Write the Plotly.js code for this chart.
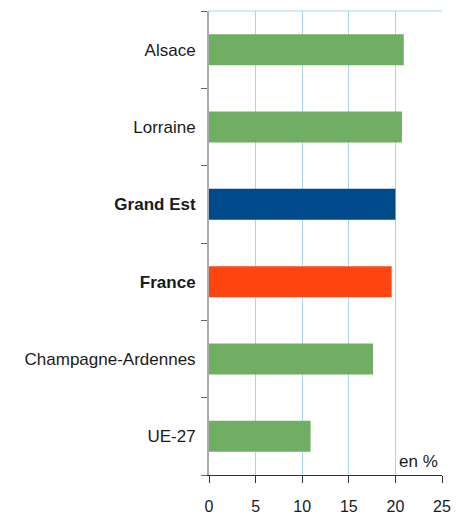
<!DOCTYPE html>
<html>
<head>
<meta charset="utf-8">
<script src="https://cdn.plot.ly/plotly-3.0.1.min.js"></script>
<style>html,body{margin:0;padding:0;background:#fff;}#chart{width:467px;height:523px;}</style>
</head>
<body>
<div id="chart"></div>
<script>
const categories = ["Alsace", "Lorraine", "Grand Est", "France", "Champagne-Ardennes", "UE-27"];
const tickLabels = ["Alsace", "Lorraine", "<b>Grand Est</b>", "<b>France</b>", "Champagne-Ardennes", "UE-27"];
const values = [20.9, 20.7, 20.0, 19.6, 17.6, 10.9];
const barColors = ["#70AF63", "#70AF63", "#00498A", "#FF4612", "#70AF63", "#70AF63"];
const xTicks = [0, 5, 10, 15, 20, 25];

const font = "'Liberation Sans', Arial, sans-serif";

const trace = {
  type: "bar",
  orientation: "h",
  y: categories,
  x: values,
  marker: {color: barColors, line: {width: 0}},
  width: 0.4,
  hoverinfo: "none"
};

const layout = {
  width: 467,
  height: 523,
  margin: {l: 209, r: 25, t: 11, b: 48},
  paper_bgcolor: "#fff",
  plot_bgcolor: "#fff",
  showlegend: false,
  font: {family: font, color: "#1a1a1a"},
  xaxis: {
    range: [0, 25],
    tickvals: xTicks,
    ticktext: xTicks.map(String),
    showgrid: true,
    gridcolor: "#A9D5F0",
    gridwidth: 1,
    zeroline: false,
    showline: true,
    linecolor: "#333",
    linewidth: 1,
    ticks: "outside",
    ticklen: 7,
    tickcolor: "#333",
    tickfont: {size: 16, family: font, color: "#1a1a1a"},
    ticklabelstandoff: 10,
    fixedrange: true
  },
  yaxis: {
    type: "category",
    categoryorder: "array",
    categoryarray: categories,
    tickvals: categories,
    ticktext: tickLabels,
    autorange: "reversed",
    showgrid: false,
    zeroline: false,
    showline: true,
    linecolor: "#AAAAAA",
    linewidth: 2,
    ticks: "outside",
    tickson: "boundaries",
    ticklen: 6,
    tickcolor: "#666",
    tickfont: {size: 17, family: font, color: "#1a1a1a"},
    ticklabelstandoff: 8,
    fixedrange: true
  },
  shapes: [{
    type: "line", xref: "paper", yref: "paper",
    x0: 0, x1: 1, y0: 1, y1: 1,
    line: {color: "#A9D5F0", width: 1}
  }],
  annotations: [{
    text: "en %",
    xref: "x", yref: "paper",
    x: 24.8, y: 0.005,
    xanchor: "right", yanchor: "bottom",
    showarrow: false,
    font: {size: 17, family: font, color: "#1a1a1a"}
  }]
};

Plotly.newPlot("chart", [trace], layout, {displayModeBar: false, staticPlot: true});
</script>
</body>
</html>
